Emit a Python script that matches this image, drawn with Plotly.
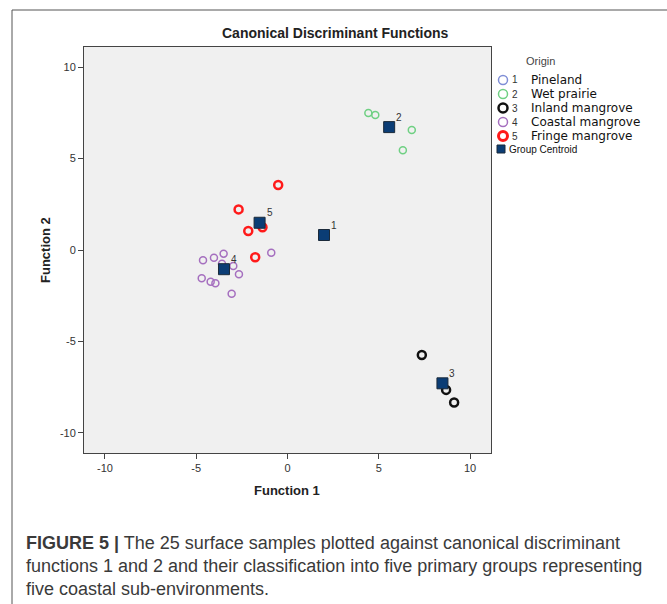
import plotly.graph_objects as go

# ---- data: canonical discriminant scores (Function 1, Function 2) ----
wet_prairie_f1 = [4.43, 4.81, 6.81, 6.32]
wet_prairie_f2 = [7.49, 7.38, 6.56, 5.46]

inland_f1 = [7.36, 8.69, 9.13]
inland_f2 = [-5.74, -7.65, -8.34]

coastal_f1 = [-4.63, -4.03, -3.50, -3.59, -2.97, -2.66, -4.70, -4.21, -3.95, -3.06, -0.89]
coastal_f2 = [-0.56, -0.42, -0.20, -0.75, -0.87, -1.33, -1.55, -1.73, -1.82, -2.39, -0.15]

fringe_f1 = [-0.51, -2.68, -2.15, -1.37, -1.77]
fringe_f2 = [3.55, 2.22, 1.04, 1.24, -0.40]

centroid_labels = ["1", "2", "3", "4", "5"]
centroid_f1 = [2.00, 5.57, 8.49, -3.48, -1.53]
centroid_f2 = [0.82, 6.72, -7.29, -1.05, 1.49]

legend_numbers = ["1", "2", "3", "4", "5"]
legend_names = ["Pineland", "Wet prairie", "Inland mangrove", "Coastal mangrove", "Fringe mangrove"]
legend_colors = ["#7f8ed6", "#6fd083", "#111111", "#a56fbf", "#ff1a1a"]
legend_widths = [1.5, 1.5, 2.5, 1.5, 3]

x_ticks = [-10, -5, 0, 5, 10]
y_ticks = [-10, -5, 0, 5, 10]

# ---- page geometry (pixels) ----
W_FIG, H_FIG = 667, 604
L, R, T, B = 84, 491, 47, 453
PW, PH = R - L, B - T


def px(xp):
    return (xp - L) / PW


def py(yp):
    return (B - yp) / PH


FONT = "Liberation Sans, Arial, sans-serif"
LEG_FONT = "DejaVu Sans, Verdana, sans-serif"

fig = go.Figure()

fig.add_trace(go.Scatter(
    x=wet_prairie_f1, y=wet_prairie_f2, mode="markers", name="Wet prairie",
    marker=dict(symbol="circle-open", size=7, color=legend_colors[1], line=dict(width=1.5, color=legend_colors[1])),
))
fig.add_trace(go.Scatter(
    x=inland_f1, y=inland_f2, mode="markers", name="Inland mangrove",
    marker=dict(symbol="circle-open", size=8, color=legend_colors[2], line=dict(width=2.5, color=legend_colors[2])),
))
fig.add_trace(go.Scatter(
    x=coastal_f1, y=coastal_f2, mode="markers", name="Coastal mangrove",
    marker=dict(symbol="circle-open", size=7, color=legend_colors[3], line=dict(width=1.5, color=legend_colors[3])),
))
fig.add_trace(go.Scatter(
    x=fringe_f1, y=fringe_f2, mode="markers", name="Fringe mangrove",
    marker=dict(symbol="circle-open", size=8, color=legend_colors[4], line=dict(width=2.5, color=legend_colors[4])),
))
fig.add_trace(go.Scatter(
    x=centroid_f1, y=centroid_f2, mode="markers", name="Group Centroid",
    marker=dict(symbol="square", size=11, color="#0b3d75", line=dict(width=1, color="#1b2a3a")),
))

annotations = []
# centroid group numbers
for lab, cx, cy in zip(centroid_labels, centroid_f1, centroid_f2):
    annotations.append(dict(
        x=cx, y=cy, xref="x", yref="y", text=lab, showarrow=False,
        xshift=10, yshift=10, font=dict(family=FONT, size=10, color="#333333"),
    ))

# chart title
annotations.append(dict(
    x=px(335), y=py(33), xref="paper", yref="paper", text="<b>Canonical Discriminant Functions</b>",
    showarrow=False, xanchor="center", yanchor="middle", font=dict(family=FONT, size=14, color="#222222"),
))
# axis titles
annotations.append(dict(
    x=px(287), y=py(490), xref="paper", yref="paper", text="<b>Function 1</b>",
    showarrow=False, xanchor="center", yanchor="middle", font=dict(family=FONT, size=13, color="#222222"),
))
annotations.append(dict(
    x=px(45), y=py(250), xref="paper", yref="paper", text="<b>Function 2</b>", textangle=-90,
    showarrow=False, xanchor="center", yanchor="middle", font=dict(family=FONT, size=13, color="#222222"),
))

# legend block
shapes = []
annotations.append(dict(
    x=px(524), y=py(61), xref="paper", yref="paper", text="Origin", showarrow=False,
    xanchor="left", yanchor="middle", font=dict(family=FONT, size=11, color="#444444"),
))
legend_y = [80, 94, 108, 122, 136]
for num, name, col, lw, yy in zip(legend_numbers, legend_names, legend_colors, legend_widths, legend_y):
    r = 4.5
    shapes.append(dict(
        type="circle", xref="paper", yref="paper",
        x0=px(503 - r), x1=px(503 + r), y0=py(yy + r), y1=py(yy - r),
        line=dict(color=col, width=lw), fillcolor="rgba(0,0,0,0)",
    ))
    annotations.append(dict(
        x=px(510), y=py(yy), xref="paper", yref="paper", text=num, showarrow=False,
        xanchor="left", yanchor="middle", font=dict(family=FONT, size=10, color="#333333"),
    ))
    annotations.append(dict(
        x=px(529), y=py(yy), xref="paper", yref="paper", text=name, showarrow=False,
        xanchor="left", yanchor="middle", font=dict(family=LEG_FONT, size=12, color="#111111"),
    ))
shapes.append(dict(
    type="rect", xref="paper", yref="paper",
    x0=px(497), x1=px(505), y0=py(153), y1=py(145),
    fillcolor="#0b3d75", line=dict(color="#1b2a3a", width=1),
))
annotations.append(dict(
    x=px(507), y=py(149), xref="paper", yref="paper", text="Group Centroid", showarrow=False,
    xanchor="left", yanchor="middle", font=dict(family=FONT, size=10, color="#111111"),
))

# outer figure frame (left and top edges)
shapes.append(dict(type="line", xref="paper", yref="paper",
                   x0=px(12), x1=px(12), y0=py(10), y1=py(W_FIG + 10),
                   line=dict(color="#555555", width=1)))
shapes.append(dict(type="line", xref="paper", yref="paper",
                   x0=px(12), x1=px(W_FIG + 10), y0=py(10), y1=py(10),
                   line=dict(color="#555555", width=1)))

# caption
CAP = "Liberation Sans, Arial, sans-serif"
caption_lines = [
    "<b>FIGURE 5 |</b> The 25 surface samples plotted against canonical discriminant",
    "functions 1 and 2 and their classification into five primary groups representing",
    "five coastal sub-environments.",
]
for i, line in enumerate(caption_lines):
    annotations.append(dict(
        x=px(24), y=py(543 + 23 * i), xref="paper", yref="paper", text=line, showarrow=False,
        xanchor="left", yanchor="middle", font=dict(family=CAP, size=18, color="#3a3a3a"),
    ))

axis_common = dict(
    tickmode="array", showgrid=False, zeroline=False, showline=True, linecolor="#444444",
    linewidth=1, mirror=True, ticks="outside", ticklen=5, tickcolor="#444444", tickwidth=1,
    tickfont=dict(family=FONT, size=11, color="#333333"),
)

fig.update_layout(
    width=W_FIG, height=H_FIG,
    margin=dict(l=L, r=W_FIG - R, t=T, b=H_FIG - B, pad=0),
    paper_bgcolor="white", plot_bgcolor="#f0f0f0",
    showlegend=False,
    xaxis=dict(range=[-11.15, 11.15], tickvals=x_ticks, ticktext=[str(v) for v in x_ticks], **axis_common),
    yaxis=dict(range=[-11.1, 11.1], tickvals=y_ticks, ticktext=[str(v) for v in y_ticks], **axis_common),
    annotations=annotations, shapes=shapes,
)

fig.write_html("out.html")
